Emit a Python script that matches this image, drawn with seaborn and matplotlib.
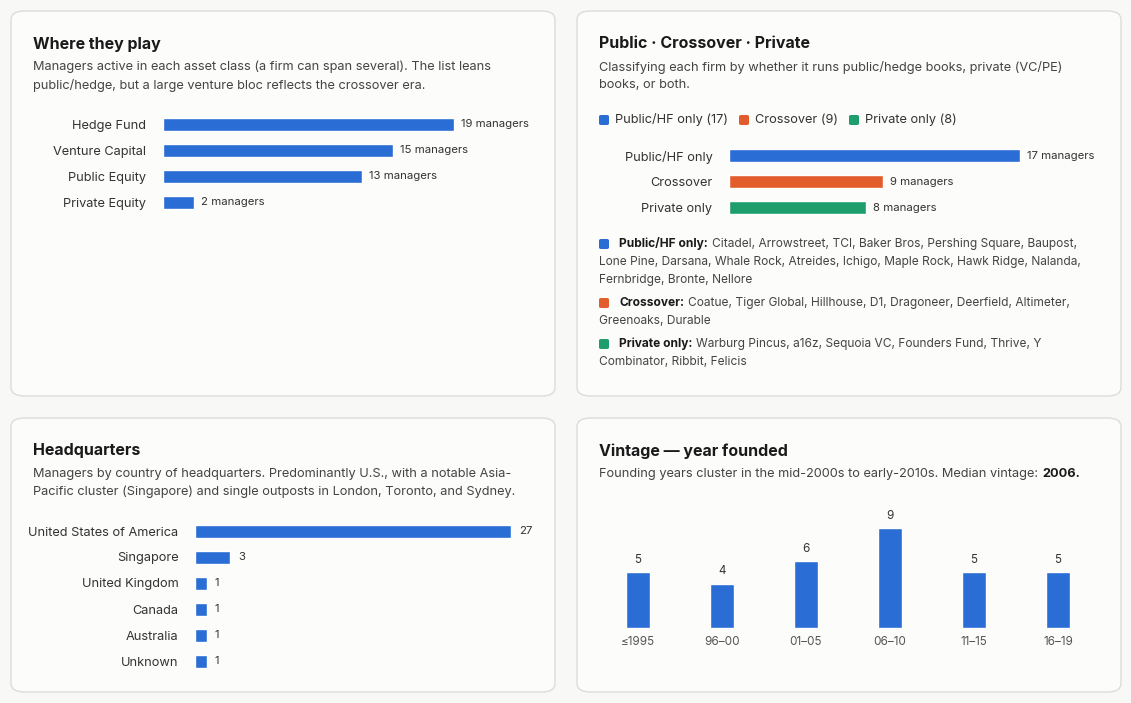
import matplotlib
matplotlib.use("Agg")
import matplotlib.pyplot as plt
from matplotlib.patches import FancyBboxPatch
import seaborn as sns
import pandas as pd

asset_classes = ["Hedge Fund", "Venture Capital", "Public Equity", "Private Equity"]
asset_counts = [19, 15, 13, 2]
groups = ["Public/HF only", "Crossover", "Private only"]
group_counts = [17, 9, 8]
group_colors = ["#2a6dd4", "#e35d2c", "#1d9e6c"]
countries = ["United States of America", "Singapore", "United Kingdom", "Canada", "Australia", "Unknown"]
country_counts = [27, 3, 1, 1, 1, 1]
vintages = ["≤1995", "96–00", "01–05", "06–10", "11–15", "16–19"]
vintage_counts = [5, 4, 6, 9, 5, 5]
members = {
    "Public/HF only": ["Citadel, Arrowstreet, TCI, Baker Bros, Pershing Square, Baupost,",
                       "Lone Pine, Darsana, Whale Rock, Atreides, Ichigo, Maple Rock, Hawk Ridge, Nalanda,",
                       "Fernbridge, Bronte, Nellore"],
    "Crossover": ["Coatue, Tiger Global, Hillhouse, D1, Dragoneer, Deerfield, Altimeter,",
                  "Greenoaks, Durable"],
    "Private only": ["Warburg Pincus, a16z, Sequoia VC, Founders Fund, Thrive, Y",
                     "Combinator, Ribbit, Felicis"],
}

sns.set_theme(style="white")
plt.rcParams['font.family'] = ['Inter', 'DejaVu Sans']
W, H = 1131, 703
BLUE = "#2a6dd4"
TXT = "#1a1a1a"
SUB = "#444444"
fig = plt.figure(figsize=(W / 100, H / 100), dpi=100, facecolor="#f8f8f7")

def card(x0, y0, x1, y1):
    fig.patches.append(FancyBboxPatch((x0 / W, 1 - y1 / H), (x1 - x0) / W, (y1 - y0) / H,
                                      boxstyle="round,pad=0,rounding_size=0.012",
                                      transform=fig.transFigure, facecolor="#fcfcfb",
                                      edgecolor="#dcdcda", lw=1, zorder=-10))

def T(x, y, s, **kw):
    kw.setdefault("color", TXT)
    kw.setdefault("fontsize", 9.2)
    return fig.text(x / W, 1 - y / H, s, va="center", ha=kw.pop("ha", "left"), **kw)

def axes_px(x0, y0, x1, y1):
    ax = fig.add_axes([x0 / W, 1 - y1 / H, (x1 - x0) / W, (y1 - y0) / H])
    ax.set_facecolor("none")
    ax.set_zorder(5)
    for s in ax.spines.values():
        s.set_visible(False)
    return ax

renderer = fig.canvas.get_renderer()

def bold_then(x, y, b, rest, size=9.2):
    t = T(x, y, b, fontweight="bold", fontsize=size)
    bb = t.get_window_extent(renderer=renderer)
    T(bb.x1 + 4, y, rest, fontsize=size, color=SUB)

for c in [(11, 11, 555, 396), (577, 11, 1121, 396), (11, 418, 555, 692), (577, 418, 1121, 692)]:
    card(*c)

def hbar(ax, cats, vals, colors, xmax, suffix):
    df = pd.DataFrame({"c": cats, "v": vals})
    sns.barplot(data=df, x="v", y="c", hue="c", palette=colors, legend=False, ax=ax,
                orient="h", width=0.5, saturation=1)
    ax.set_xlim(0, xmax)
    ax.set_ylim(len(cats) - 0.5, -0.5)
    ax.set_xlabel(""); ax.set_ylabel(""); ax.set_xticks([])
    ax.tick_params(axis="y", length=0, labelsize=9.2, pad=12, labelcolor="#333333")
    for i, v in enumerate(vals):
        ax.text(v + xmax * 0.025, i, f"{v}{suffix}", va="center", fontsize=8.2, color="#333333")

# Panel 1
T(33, 44, "Where they play", fontsize=11.5, fontweight="bold")
T(33, 67, "Managers active in each asset class (a firm can span several). The list leans", color=SUB)
T(33, 85, "public/hedge, but a large venture bloc reflects the crossover era.", color=SUB)
ax = axes_px(163, 111, 454, 215)
hbar(ax, asset_classes, asset_counts, [BLUE] * 4, 19, " managers")

# Panel 2
T(599, 44, "Public · Crossover · Private", fontsize=11.5, fontweight="bold")
T(599, 67, "Classifying each firm by whether it runs public/hedge books, private (VC/PE)", color=SUB)
T(599, 85, "books, or both.", color=SUB)
lx = [599, 739, 849]
for x, g, n, col in zip(lx, groups, group_counts, group_colors):
    fig.patches.append(FancyBboxPatch((x / W, 1 - 125 / H), 10 / W, 10 / H,
                                      boxstyle="round,pad=0,rounding_size=0.002",
                                      transform=fig.transFigure, facecolor=col, edgecolor="none"))
    T(x + 16, 120, f"{g} ({n})", color="#333333")
ax = axes_px(729, 143, 1020, 221)
hbar(ax, groups, group_counts, group_colors, 17, " managers")
ys = [244, 303, 344]
for (g, lines), col, y in zip(members.items(), group_colors, ys):
    fig.patches.append(FancyBboxPatch((599 / W, 1 - (y + 5) / H), 10 / W, 10 / H,
                                      boxstyle="round,pad=0,rounding_size=0.002",
                                      transform=fig.transFigure, facecolor=col, edgecolor="none"))
    bold_then(619, y, g + ":", lines[0], size=8.6)
    for k, ln in enumerate(lines[1:]):
        T(599, y + 18 * (k + 1), ln, fontsize=8.6, color=SUB)

# Panel 3
T(33, 451, "Headquarters", fontsize=11.5, fontweight="bold")
T(33, 474, "Managers by country of headquarters. Predominantly U.S., with a notable Asia-", color=SUB)
T(33, 492, "Pacific cluster (Singapore) and single outposts in London, Toronto, and Sydney.", color=SUB)
ax = axes_px(195, 518, 511, 674)
hbar(ax, countries, country_counts, [BLUE] * 6, 27, "")

# Panel 4
T(599, 451, "Vintage — year founded", fontsize=11.5, fontweight="bold")
t = T(599, 474, "Founding years cluster in the mid-2000s to early-2010s. Median vintage:", color=SUB)
bb = t.get_window_extent(renderer=renderer)
T(bb.x1 + 4, 474, "2006.", fontweight="bold")
ax = axes_px(596, 528, 1100, 628)
df = pd.DataFrame({"c": vintages, "v": vintage_counts})
sns.barplot(data=df, x="c", y="v", color=BLUE, saturation=1, width=0.29, ax=ax)
ax.set_ylim(0, 9)
ax.set_xlim(-0.5, 5.5)
ax.set_xlabel(""); ax.set_ylabel(""); ax.set_yticks([])
ax.tick_params(axis="x", length=0, labelsize=8.4, pad=6, labelcolor="#555555")
for i, v in enumerate(vintage_counts):
    ax.text(i, v + 0.55, str(v), ha="center", va="bottom", fontsize=8.4, color="#333333", clip_on=False)

fig.savefig("out.png", dpi=100, facecolor=fig.get_facecolor())
